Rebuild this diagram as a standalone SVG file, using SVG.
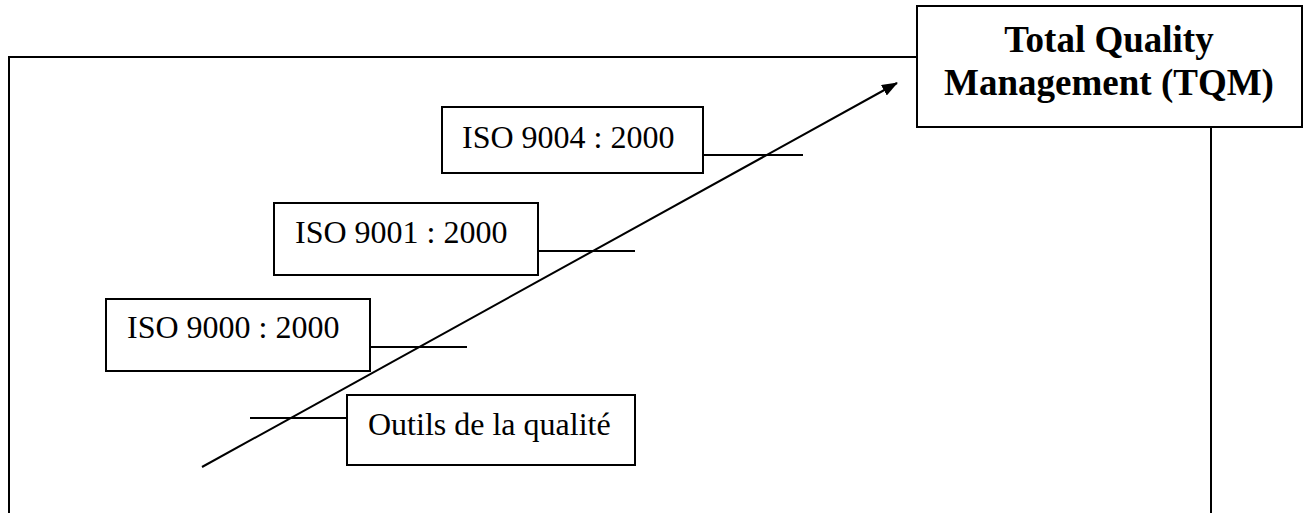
<svg xmlns="http://www.w3.org/2000/svg" width="1307" height="513" viewBox="0 0 1307 513">
<style>
.box{fill:#fff;stroke:#000;stroke-width:2}
.ln{fill:none;stroke:#000;stroke-width:2}
.t{font-family:"Liberation Serif","Times New Roman",serif;font-size:32px;fill:#000}
.tb{font-family:"Liberation Serif","Times New Roman",serif;font-size:37px;font-weight:bold;fill:#000;text-anchor:middle}
</style>
<defs>
<marker id="ah" markerWidth="16" markerHeight="12" refX="15" refY="6" orient="auto" markerUnits="userSpaceOnUse" viewBox="0 0 16 12">
<path d="M0,0 L16,6 L0,12 z" fill="#000"/>
</marker>
</defs>
<g id="connectors">
<polyline class="ln" points="917,57 9,57 9,513"/>
<line class="ln" x1="1211" y1="127" x2="1211" y2="513"/>
<line class="ln" x1="703" y1="155" x2="803" y2="155"/>
<line class="ln" x1="538" y1="251" x2="635" y2="251"/>
<line class="ln" x1="370" y1="347" x2="467" y2="347"/>
<line class="ln" x1="250" y1="418" x2="347" y2="418"/>
<line class="ln" x1="202" y1="467" x2="897" y2="83" marker-end="url(#ah)"/>
</g>
<g id="tqm">
<rect class="box" x="917" y="6" width="385" height="121"/>
<text class="tb" x="1109" y="52">Total Quality</text>
<text class="tb" x="1109" y="95">Management (TQM)</text>
</g>
<g id="iso9004">
<rect class="box" x="442" y="107" width="261" height="66"/>
<text class="t" x="462" y="148">ISO 9004 : 2000</text>
</g>
<g id="iso9001">
<rect class="box" x="274" y="203" width="264" height="72"/>
<text class="t" x="295" y="243">ISO 9001 : 2000</text>
</g>
<g id="iso9000">
<rect class="box" x="106" y="299" width="264" height="72"/>
<text class="t" x="127" y="338">ISO 9000 : 2000</text>
</g>
<g id="outils">
<rect class="box" x="347" y="395" width="288" height="70"/>
<text class="t" x="368" y="435">Outils de la qualité</text>
</g>
</svg>
